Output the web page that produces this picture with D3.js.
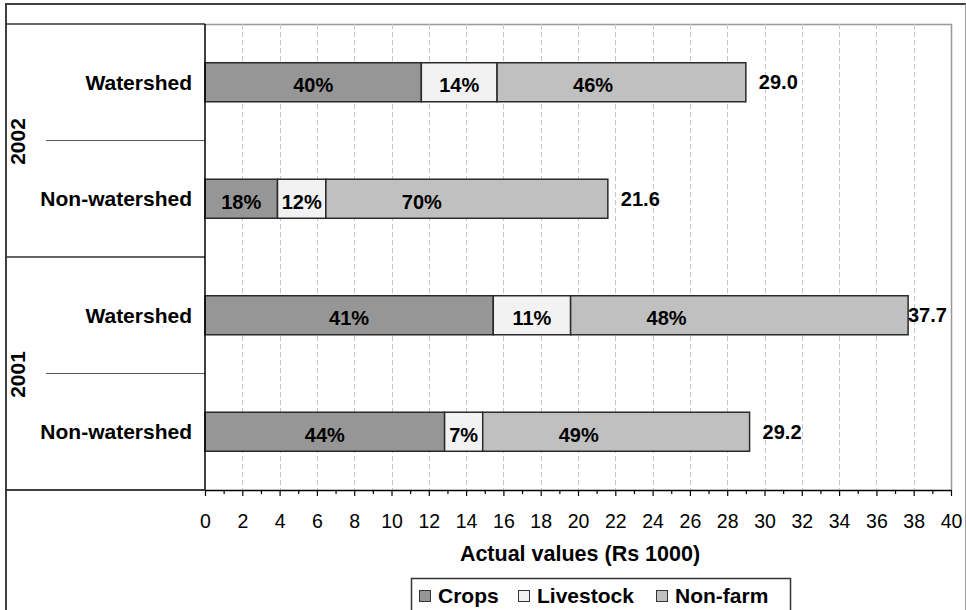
<!DOCTYPE html>
<html>
<head>
<meta charset="utf-8">
<script src="https://cdn.jsdelivr.net/npm/d3@7"></script>
<style>
  html, body { margin: 0; padding: 0; background: #fff; }
  svg { display: block; font-family: "Liberation Sans", Arial, Helvetica, sans-serif; }
</style>
</head>
<body>
<svg id="chart" width="966" height="610"></svg>
<script>
// Household income composition by survey year and village type
const years = ["2002", "2001"];
const groups = ["Watershed", "Non-watershed"];
const totals = [29.0, 21.6, 37.7, 29.2];      // Rs 1000, in row order
const cropsPct = [40, 18, 41, 44];
const livestockPct = [14, 12, 11, 7];
const nonfarmPct = [46, 70, 48, 49];
const seriesNames = ["Crops", "Livestock", "Non-farm"];
const xTicks = d3.range(0, 41, 2);
const xTitle = "Actual values (Rs 1000)";

const colors = ["#969696", "#f2f2f2", "#c0c0c0"];
const pcts = [cropsPct, livestockPct, nonfarmPct];
const boldSize = 21;

const rows = [];
years.forEach(yr => groups.forEach(g => rows.push({ id: yr + "|" + g, year: yr, group: g })));
rows.forEach((r, i) => {
  r.total = totals[i];
  let acc = 0;
  r.segs = pcts.map((p, s) => {
    const v = r.total * p[i] / 100;
    const seg = { s, pct: p[i], x0: acc, x1: acc + v };
    acc += v;
    return seg;
  });
});

const svg = d3.select("#chart");
const plotL = 205, plotR = 951, plotT = 24, plotB = 490;

const x = d3.scaleLinear().domain([0, 40]).range([plotL, plotR]);
const y = d3.scaleBand().domain(rows.map(r => r.id)).range([plotT, plotB])
  .paddingInner(0.665).paddingOuter(0.3325);

// outer frame
svg.append("line").attr("x1", 5).attr("x2", 966).attr("y1", 4).attr("y2", 4)
  .attr("stroke", "#404040").attr("stroke-width", 2);
svg.append("line").attr("x1", 6).attr("x2", 6).attr("y1", 4).attr("y2", 610)
  .attr("stroke", "#404040").attr("stroke-width", 2);
svg.append("line").attr("x1", 965.5).attr("x2", 965.5).attr("y1", 4).attr("y2", 610)
  .attr("stroke", "#999").attr("stroke-width", 1);

// plot border (top/right)
svg.append("path")
  .attr("d", `M${plotL},${plotT + 0.5}H${plotR + 0.5}V${plotB}`)
  .attr("fill", "none").attr("stroke", "#999").attr("stroke-width", 1.5);

// vertical gridlines
svg.append("g").selectAll("line")
  .data(xTicks.filter(t => t > 0 && t < 40))
  .join("line")
  .attr("x1", d => Math.round(x(d)) + 0.5).attr("x2", d => Math.round(x(d)) + 0.5)
  .attr("y1", plotT).attr("y2", plotB)
  .attr("stroke", "#c4c4c4").attr("stroke-width", 1).attr("stroke-dasharray", "5,3");

// category panel: group boundaries and inner separators
const groupEdges = [plotT, y(rows[2].id) - y.step() * y.paddingInner() / 2, plotB];
svg.append("g").selectAll("line").data(groupEdges).join("line")
  .attr("x1", 5).attr("x2", plotL).attr("y1", d => d).attr("y2", d => d)
  .attr("stroke", "#333").attr("stroke-width", 1.5);
const innerSeps = years.map((yr, k) => (groupEdges[k] + groupEdges[k + 1]) / 2);
svg.append("g").selectAll("line").data(innerSeps).join("line")
  .attr("x1", 46).attr("x2", plotL).attr("y1", d => d).attr("y2", d => d)
  .attr("stroke", "#555").attr("stroke-width", 1.2);

// year labels (rotated)
svg.append("g").selectAll("text").data(years).join("text")
  .attr("transform", (d, k) => `translate(25,${(groupEdges[k] + groupEdges[k + 1]) / 2 + 1}) rotate(-90)`)
  .attr("text-anchor", "middle")
  .attr("font-size", boldSize).attr("font-weight", "bold").attr("fill", "#000")
  .text(d => d);

// row labels
svg.append("g").selectAll("text").data(rows).join("text")
  .attr("x", 192).attr("y", d => y(d.id) + y.bandwidth() / 2)
  .attr("dy", "0.35em")
  .attr("text-anchor", "end")
  .attr("font-size", boldSize).attr("font-weight", "bold").attr("fill", "#000")
  .text(d => d.group);

// stacked bars
const rowG = svg.append("g").selectAll("g").data(rows).join("g");
rowG.selectAll("rect").data(d => d.segs).join("rect")
  .attr("x", d => x(d.x0))
  .attr("width", d => x(d.x1) - x(d.x0))
  .attr("y", function () { return y(d3.select(this.parentNode).datum().id); })
  .attr("height", y.bandwidth())
  .attr("fill", d => colors[d.s])
  .attr("stroke", "#2a2a2a").attr("stroke-width", 1.5);

// percentage labels inside segments
rowG.selectAll("text.pct").data(d => d.segs).join("text")
  .attr("class", "pct")
  .attr("x", d => d.s === 2 ? Math.min((x(d.x0) + x(d.x1)) / 2, x(d.x0) + 96) : (x(d.x0) + x(d.x1)) / 2)
  .attr("y", function () { const r = d3.select(this.parentNode).datum(); return y(r.id) + y.bandwidth() / 2 + 3; })
  .attr("dy", "0.35em")
  .attr("text-anchor", "middle")
  .attr("font-size", 20).attr("font-weight", "bold").attr("fill", "#000")
  .text(d => d.pct + "%");

// totals to the right of each bar, kept inside the plot
const fmt = d3.format(".1f");
rowG.append("text")
  .attr("x", d => Math.min(x(d.total) + 13, plotR - 43))
  .attr("y", d => y(d.id) + y.bandwidth() / 2)
  .attr("dy", "0.35em")
  .attr("font-size", 20).attr("font-weight", "bold").attr("fill", "#000")
  .text(d => fmt(d.total));

// y axis line
svg.append("line").attr("x1", plotL).attr("x2", plotL).attr("y1", plotT).attr("y2", plotB)
  .attr("stroke", "#000").attr("stroke-width", 1.5);

// x axis: minor ticks, then major ticks with labels
svg.append("g").attr("transform", `translate(0,${plotB})`)
  .call(d3.axisBottom(x).tickValues(d3.range(1, 40, 2)).tickSize(4).tickFormat(""))
  .call(g => g.select(".domain").remove())
  .call(g => g.selectAll("line").attr("stroke", "#000").attr("stroke-width", 1.2));
const xAxis = svg.append("g").attr("transform", `translate(0,${plotB})`)
  .call(d3.axisBottom(x).tickValues(xTicks).tickSize(6).tickPadding(18).tickSizeOuter(0));
xAxis.select(".domain").attr("stroke", "#000").attr("stroke-width", 1.5);
xAxis.selectAll(".tick line").attr("stroke", "#000").attr("stroke-width", 1.2);
xAxis.selectAll(".tick text")
  .attr("font-size", 19.5).attr("fill", "#000")
  .attr("font-family", "'Liberation Sans', Arial, Helvetica, sans-serif");
svg.append("line").attr("x1", 5).attr("x2", plotL).attr("y1", plotB).attr("y2", plotB)
  .attr("stroke", "#333").attr("stroke-width", 1.5);

// axis title
svg.append("text")
  .attr("x", (plotL + plotR) / 2 + 2).attr("y", 561)
  .attr("text-anchor", "middle")
  .attr("font-size", 21.5).attr("font-weight", "bold").attr("fill", "#000")
  .text(xTitle);

// legend
const legend = svg.append("g");
legend.append("rect").attr("x", 411.5).attr("y", 578.5).attr("width", 379).attr("height", 34)
  .attr("fill", "#fff").attr("stroke", "#333").attr("stroke-width", 1.5);
const legendX = [419, 518, 656];
const item = legend.selectAll("g.item").data(seriesNames).join("g")
  .attr("class", "item")
  .attr("transform", (d, i) => `translate(${legendX[i]},590)`);
item.append("rect").attr("x", 0.5).attr("y", 0.5).attr("width", 11).attr("height", 11)
  .attr("fill", (d, i) => colors[i]).attr("stroke", "#333").attr("stroke-width", 1);
item.append("text").attr("x", 19).attr("y", 6).attr("dy", "0.35em")
  .attr("font-size", boldSize).attr("font-weight", "bold").attr("fill", "#000")
  .text(d => d);
</script>
</body>
</html>
